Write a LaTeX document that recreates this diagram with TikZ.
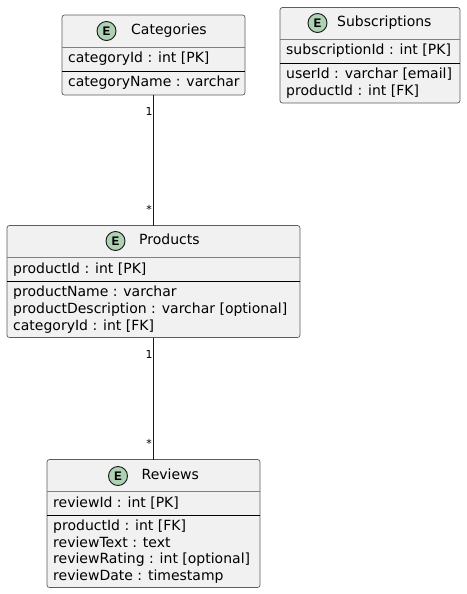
\documentclass[tikz,border=0pt]{standalone}
\usepackage{fontspec}
\setmainfont{DejaVu Sans}
\newfontfamily\emono{Liberation Mono}
\definecolor{boxfill}{HTML}{F1F1F1}
\definecolor{boxline}{HTML}{181818}
\definecolor{entgreen}{HTML}{ADD1B2}
\begin{document}
\begin{tikzpicture}[x=1pt,y=-1pt,
  entbox/.style={draw=boxline!70, line width=0.7pt, fill=boxfill, rounded corners=2.5pt},
  hsep/.style={draw=boxline!55, line width=0.7pt},
  dsep/.style={draw=black, line width=0.9pt},
  fld/.style={anchor=west, inner sep=0pt, font=\fontsize{14}{16}\selectfont, text height=10.5pt, text depth=3pt},
  ttl/.style={anchor=west, inner sep=0pt, font=\fontsize{14}{16}\selectfont, text height=10.5pt, text depth=3pt},
  ecirc/.style={circle, draw=boxline, line width=0.9pt, fill=entgreen, minimum size=19pt, inner sep=0pt, font=\emono\bfseries\fontsize{13}{13}\selectfont},
  card/.style={inner sep=0pt, font=\fontsize{11}{12}\selectfont},
  rel/.style={draw=boxline, line width=0.9pt}]
\useasboundingbox (0,0) rectangle (466,594);
\fill[white] (0,0) rectangle (466,594);

% Categories
\path[entbox] (62,15) rectangle (245,95);
\coordinate (catbot) at (153.5,95);
\draw[hsep] (62,47) -- (245,47);
\draw[dsep] (62,71) -- (245,71);
\node[ecirc] (catE) at (106.5,31) {E};
\node[ttl] (catT) at (131,31) {Categories};
\node[fld] (cat1) at (68,59) {categoryId : int [PK]};
\node[fld] (cat2) at (68,83) {categoryName : varchar};

% Subscriptions
\path[entbox] (280,7.5) rectangle (460,103);
\draw[hsep] (280,39) -- (460,39);
\draw[dsep] (280,63) -- (460,63);
\node[ecirc] (subE) at (317.5,23) {E};
\node[ttl] (subT) at (337,23) {Subscriptions};
\node[fld] (sub1) at (286,51) {subscriptionId : int [PK]};
\node[fld] (sub2) at (286,75) {userId : varchar [email]};
\node[fld] (sub3) at (286,92) {productId : int [FK]};

% Products
\path[entbox] (7,225.5) rectangle (300,337.5);
\coordinate (prodtop) at (153.5,225.5);
\coordinate (prodbot) at (153.5,337.5);
\draw[hsep] (7,257) -- (300,257);
\draw[dsep] (7,281) -- (300,281);
\node[ecirc] (prodE) at (115.5,241) {E};
\node[ttl] (prodT) at (139,241) {Products};
\node[fld] (prod1) at (13,269.5) {productId : int [PK]};
\node[fld] (prod2) at (13,293) {productName : varchar};
\node[fld] (prod3) at (13,310) {productDescription : varchar [optional]};
\node[fld] (prod4) at (13,327) {categoryId : int [FK]};

% Reviews
\path[entbox] (47,459.5) rectangle (260,587.5);
\coordinate (revtop) at (153.5,459.5);
\draw[hsep] (47,491) -- (260,491);
\draw[dsep] (47,515) -- (260,515);
\node[ecirc] (revE) at (118,476) {E};
\node[ttl] (revT) at (141.5,476) {Reviews};
\node[fld] (rev1) at (53,503.5) {reviewId : int [PK]};
\node[fld] (rev2) at (53,527) {productId : int [FK]};
\node[fld] (rev3) at (53,543.5) {reviewText : text};
\node[fld] (rev4) at (53,560) {reviewRating : int [optional]};
\node[fld] (rev5) at (53,576.5) {reviewDate : timestamp};

% Relations
\draw[rel] (catbot) -- (prodtop);
\node[card] (c1) at (149,111) {1};
\node[card] (c2) at (149,209) {*};
\draw[rel] (prodbot) -- (revtop);
\node[card] (c3) at (149,354) {1};
\node[card] (c4) at (149,443) {*};
\end{tikzpicture}
\end{document}
